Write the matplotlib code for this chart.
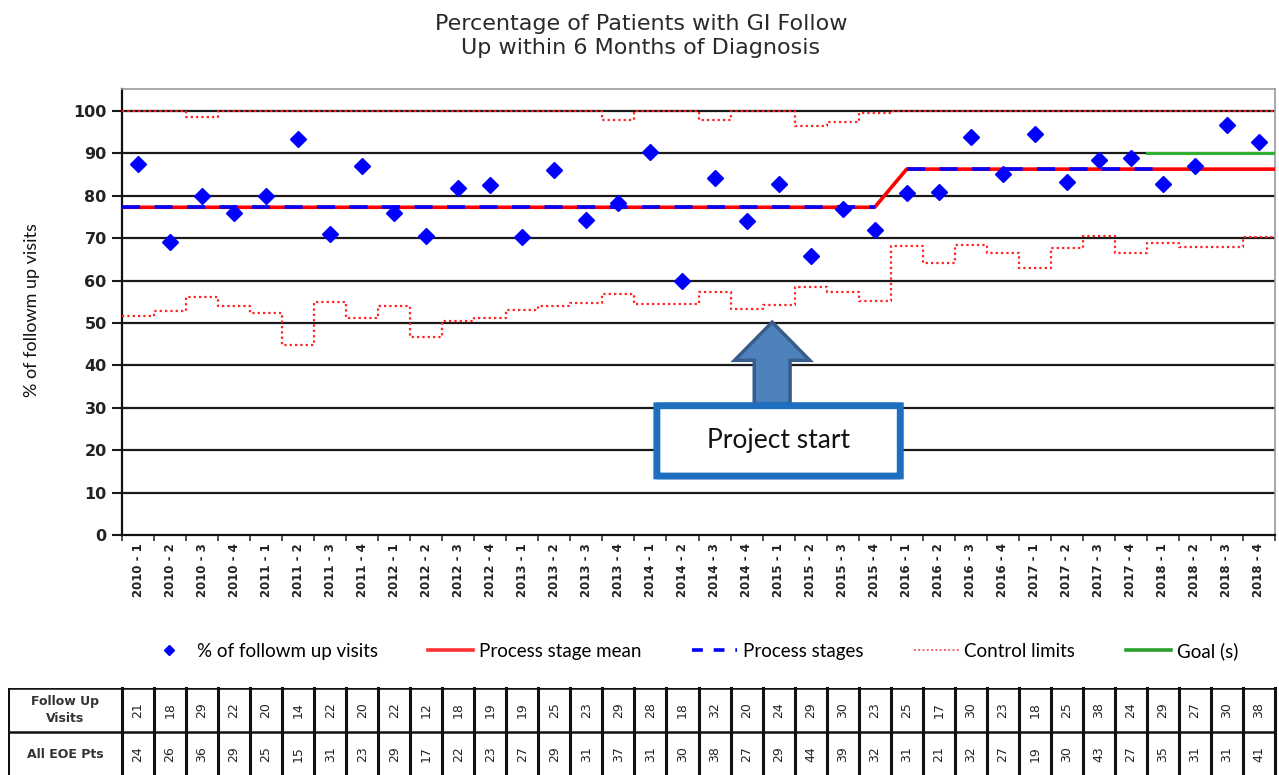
import matplotlib

matplotlib.use("Agg")
import matplotlib.pyplot as plt
import numpy as np
from matplotlib.lines import Line2D
from matplotlib.patches import FancyArrow, FancyBboxPatch

# quarters 2010-1 .. 2018-4
years = [2010, 2011, 2012, 2013, 2014, 2015, 2016, 2017, 2018]
quarter_labels = [f"{y} - {q}" for y in years for q in (1, 2, 3, 4)]

pct_follow_up = [87.5, 69.2, 80.0, 75.9, 80.0, 93.3, 71.0, 87.0, 75.9, 70.6,
                 81.8, 82.6, 70.4, 86.2, 74.2, 78.4, 90.3, 60.0, 84.2, 74.1,
                 82.8, 65.9, 76.9, 71.9, 80.6, 81.0, 93.8, 85.2, 94.7, 83.3,
                 88.4, 88.9, 82.9, 87.1, 96.8, 92.7]

stage1_mean = 77.3   # 2010-1 .. 2015-4
stage2_mean = 86.3   # 2016-1 .. 2018-4
stage1_end = 23      # index of 2015-4
stages_end = 32      # process-stage dashes stop at 2018-1
goal_value = 90
goal_start = 31.5

lower_limit = [51.6, 52.9, 56.1, 54.0, 52.3, 44.8, 54.9, 51.1, 54.0, 46.8,
               50.5, 51.1, 53.1, 54.0, 54.8, 56.8, 54.6, 54.4, 57.2, 53.2,
               54.2, 58.4, 57.2, 55.3, 68.2, 64.1, 68.3, 66.4, 63.0, 67.7,
               70.6, 66.6, 68.9, 68.0, 68.0, 70.4]
upper_limit = [100, 100, 98.7, 100, 100, 100, 100, 100, 100, 100,
               100, 100, 100, 100, 100, 98.0, 100, 100, 97.9, 100,
               100, 96.5, 97.5, 99.6, 100, 100, 100, 100, 100, 100,
               100, 100, 100, 100, 100, 100]

follow_up_visits = [21, 18, 29, 22, 20, 14, 22, 20, 22, 12, 18, 19, 19, 25,
                    23, 29, 28, 18, 32, 20, 24, 29, 30, 23, 25, 17, 30, 23,
                    18, 25, 38, 24, 29, 27, 30, 38]
all_eoe_pts = [24, 26, 36, 29, 25, 15, 31, 23, 29, 17, 22, 23, 27, 29, 31,
               37, 31, 30, 38, 27, 29, 44, 39, 32, 31, 21, 32, 27, 19, 30,
               43, 27, 35, 31, 31, 41]
row_labels = ["Follow Up\nVisits", "All EOE Pts"]

W, H = 1279, 775
fig = plt.figure(figsize=(W / 100, H / 100), dpi=100)
ax = fig.add_axes([122 / W, 1 - 535 / H, (1275 - 122) / W, (535 - 89) / H])

n = len(quarter_labels)
x = np.arange(n)
ax.set_xlim(-0.5, n - 0.5)
ax.set_ylim(0, 105.2)

# gridlines
for v in range(10, 101, 10):
    ax.axhline(v, color="#1a1a1a", lw=1.6, zorder=1)

# control limits as steps spanning each quarter
edges = np.repeat(np.arange(n + 1) - 0.5, 2)[1:-1]
dot = (0, (1, 1.4))
ax.plot(edges, np.repeat(lower_limit, 2), color="#ff2020", lw=1.6, ls=dot, zorder=3)
ax.plot(edges, np.repeat(upper_limit, 2), color="#ff2020", lw=1.6, ls=dot, zorder=3)

# process stage mean (red) with the shift after 2015-4
mean_x = [-0.5, stage1_end, stage1_end + 1, n - 0.5]
mean_y = [stage1_mean, stage1_mean, stage2_mean, stage2_mean]
ax.plot(mean_x, mean_y, color="#ff0000", lw=2.6, zorder=4)
# process stages (blue dashes over the mean)
ax.plot([-0.5, stage1_end], [stage1_mean] * 2, color="#0000ff", lw=2.6,
        dashes=(5, 4), zorder=5)
ax.plot([stage1_end + 1, stages_end], [stage2_mean] * 2, color="#0000ff", lw=2.6,
        dashes=(5, 4), zorder=5)
# goal
ax.plot([goal_start, n - 0.5], [goal_value] * 2, color="#33b033", lw=2.2, zorder=4)

ax.plot(x, pct_follow_up, ls="none", marker="D", ms=8, color="#0000ff",
        mec="#0000ff", zorder=6)

# axes styling
ax.set_yticks(range(0, 101, 10))
ax.set_yticklabels([str(v) for v in range(0, 101, 10)], fontfamily="DejaVu Sans",
                   fontweight="bold", fontsize=11.5, color="#222222")
ax.tick_params(axis="y", length=7, width=1.5, pad=4, color="#1a1a1a")
ax.set_xticks(x)
ax.set_xticklabels(quarter_labels, rotation=90, fontfamily="DejaVu Sans",
                   fontweight="bold", fontsize=8.5, color="#222222")
ax.set_xticks(np.arange(n + 1) - 0.5, minor=True)
ax.tick_params(axis="x", which="major", length=0, pad=6)
ax.tick_params(axis="x", which="minor", length=4, width=1.2, color="#333333")
for side in ("top", "right"):
    ax.spines[side].set_color("#999999")
    ax.spines[side].set_linewidth(1.2)
for side in ("left", "bottom"):
    ax.spines[side].set_color("#111111")
    ax.spines[side].set_linewidth(1.6)

# title and y label
fig.text(641 / W, 1 - 36 / H, "Percentage of Patients with GI Follow\nUp within 6 Months of Diagnosis",
         ha="center", va="center", fontfamily="DejaVu Sans", fontsize=16,
         color="#2a2a2a", linespacing=1.3)
fig.text(32 / W, 1 - 310 / H, "% of followm up visits", rotation=90,
         ha="center", va="center", fontfamily="Lato", fontsize=13, color="#111111")

# project start annotation
tip_y = 50.2
base_y = 31.0
ax.add_patch(FancyArrow(19.8, base_y, 0, tip_y - base_y, width=1.12,
                        head_width=2.35, head_length=9.0,
                        length_includes_head=True, fc="#4f81bd", ec="#385d8a",
                        lw=2.5, zorder=7))
box = FancyBboxPatch((16.2, 13.9), 7.6, 16.6, boxstyle="round,pad=0,rounding_size=0.15",
                     fc="white", ec="#1f6fc0", lw=5, zorder=8,
                     mutation_aspect=4.24 / 32.03)
ax.add_patch(box)
ax.text(20.0, 22.2, "Project start", ha="center", va="center",
        fontfamily="Lato", fontsize=19, color="#111111", zorder=9)

# legend
handles = [
    Line2D([], [], ls="none", marker="D", ms=5, color="#0000ff"),
    Line2D([], [], color="#ff3030", lw=2.6),
    Line2D([], [], color="#0000ff", lw=2.6, dashes=(3, 3)),
    Line2D([], [], color="#ff6060", lw=1.4, ls=(0, (1, 1.2))),
    Line2D([], [], color="#2ca02c", lw=2.6),
]
labels = ["% of followm up visits", "Process stage mean", "Process stages",
          "Control limits", "Goal (s)"]
fig.legend(handles, labels, loc="center", bbox_to_anchor=(692 / W, 1 - 651 / H),
           ncol=5, frameon=False, handlelength=2.4, handletextpad=0.3,
           columnspacing=2.7, prop={"family": "Lato", "size": 13.5})

# data table under the chart
px_per_unit = (1275 - 122) / n
tab_left = -0.5 - (122 - 8) / px_per_unit
tab = fig.add_axes([8 / W, 0, (1275 - 8) / W, 87 / H])
tab.set_xlim(tab_left, n - 0.5)
tab.set_ylim(2 - 87 / 44, 2)
tab.axis("off")
for b in np.arange(n + 1) - 0.5:
    tab.plot([b, b], [0, 2], color="#111111", lw=2.2, clip_on=False)
tab.plot([tab_left, tab_left], [0, 2], color="#111111", lw=2.2)
for yline in (0, 1, 2):
    tab.plot([tab_left, n - 0.5], [yline, yline], color="#111111", lw=1.8)
for r, (label, row) in enumerate(zip(row_labels, [follow_up_visits, all_eoe_pts])):
    yc = 1.5 - r
    tab.text((tab_left - 0.5) / 2, yc, label, ha="center", va="center",
             fontfamily="DejaVu Sans", fontweight="bold", fontsize=9,
             color="#333333", linespacing=1.3)
    for i, v in enumerate(row):
        tab.text(i, yc, str(v), rotation=90, ha="center", va="center",
                 fontfamily="DejaVu Sans", fontsize=9, color="#222222")

fig.savefig("out.png", dpi=100)
